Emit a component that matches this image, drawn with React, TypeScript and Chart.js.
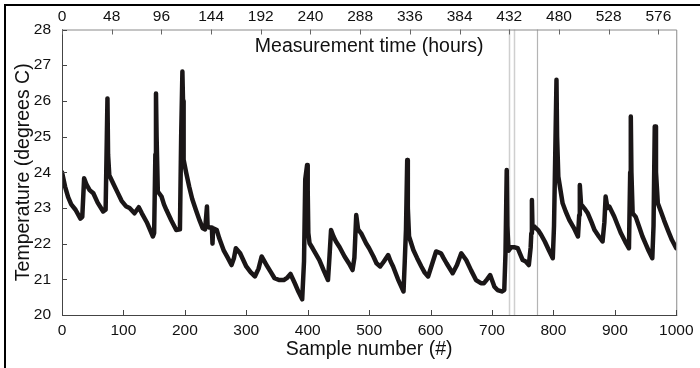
import React, { useEffect, useRef } from "react";
import { Chart, registerables } from "chart.js";

Chart.register(...registerables);

// Sample numbers (x) and temperatures (°C)
const sampleNumbers = [
  0, 5, 10, 15, 22, 30, 33, 36, 40, 45, 51, 58, 67, 71, 73, 74, 75, 77, 83, 90, 97, 104, 110, 118, 125, 130, 138, 148,
  150, 152, 153, 154, 156, 162, 166, 170, 178, 186, 192, 194, 196, 197, 198, 202, 207, 212, 218, 224, 229, 233, 236,
  237, 240, 244, 245, 246, 252, 256, 263, 270, 276, 280, 283, 290, 300, 307, 314, 320, 325, 333, 340, 346, 354, 361,
  367, 372, 379, 385, 391, 394, 396, 399, 400, 401, 403, 408, 419, 426, 433, 435, 438, 442, 446, 452, 460, 467, 473,
  476, 479, 482, 487, 495, 500, 507, 512, 518, 524, 531, 535, 539, 547, 556, 558, 560, 562, 563, 565, 572, 578, 585,
  590, 596, 602, 609, 617, 621, 626, 636, 643, 650, 658, 666, 674, 682, 687, 692, 697, 704, 709, 716, 720, 722, 724,
  725, 727, 731, 736, 742, 750, 755, 760, 763, 764, 765, 766, 769, 775, 780, 786, 793, 799, 801, 803, 805, 806, 808,
  815, 820, 826, 833, 840, 842, 843, 845, 848, 852, 856, 862, 867, 874, 880, 883, 885, 888, 891, 895, 899, 905, 910,
  917, 923, 925, 926, 927, 929, 934, 940, 945, 950, 955, 961, 963, 965, 966, 967, 970, 975, 980, 987, 993, 1000,
];
const temperatures = [
  24.0, 23.6, 23.3, 23.1, 22.95, 22.7, 22.75, 23.83, 23.65, 23.5, 23.41, 23.15, 22.9, 22.95, 25.0, 26.07, 24.5, 23.92,
  23.7, 23.45, 23.2, 23.05, 23.0, 22.85, 23.02, 22.85, 22.6, 22.2, 22.3, 24.5, 26.21, 25.0, 23.46, 23.32, 23.1, 22.94,
  22.65, 22.38, 22.4, 25.0, 26.82, 26.0, 24.35, 24.0, 23.6, 23.25, 22.94, 22.65, 22.43, 22.4, 23.04, 22.5, 22.45,
  22.45, 22.0, 22.43, 22.38, 22.15, 21.82, 21.6, 21.4, 21.6, 21.87, 21.73, 21.36, 21.2, 21.08, 21.3, 21.64, 21.4,
  21.2, 21.03, 20.98, 20.98, 21.05, 21.15, 20.89, 20.65, 20.44, 21.5, 23.8, 24.2, 23.5, 22.3, 22.01, 21.87, 21.54,
  21.25, 20.98, 21.5, 22.38, 22.2, 22.06, 21.9, 21.64, 21.45, 21.26, 21.6, 22.8, 22.4, 22.29, 22.01, 21.87, 21.64,
  21.45, 21.36, 21.5, 21.68, 21.5, 21.36, 21.0, 20.66, 21.5, 22.4, 24.34, 23.0, 22.2, 21.82, 21.6, 21.36, 21.2, 21.08,
  21.4, 21.78, 21.73, 21.6, 21.45, 21.17, 21.4, 21.73, 21.54, 21.25, 20.98, 20.89, 20.89, 21.0, 21.12, 20.79, 20.7,
  20.66, 20.7, 21.73, 24.06, 22.5, 21.8, 21.9, 21.9, 21.87, 21.54, 21.5, 21.4, 21.9, 22.29, 23.22, 22.4, 22.48, 22.38,
  22.25, 22.06, 21.8, 21.59, 22.5, 24.5, 26.59, 25.0, 23.88, 23.13, 22.9, 22.66, 22.45, 22.2, 22.8, 23.64, 23.1, 23.04,
  22.95, 22.85, 22.6, 22.38, 22.2, 22.06, 22.6, 23.32, 23.0, 23.04, 22.9, 22.76, 22.5, 22.29, 22.05, 21.87, 24.0, 25.56,
  24.0, 22.85, 22.75, 22.45, 22.2, 22.0, 21.8, 21.59, 22.5, 25.28, 25.28, 24.0, 23.13, 22.9, 22.66, 22.35, 22.1, 21.87,
];

const sampleTicks = [0, 100, 200, 300, 400, 500, 600, 700, 800, 900, 1000];
const hourTicks = [0, 48, 96, 144, 192, 240, 288, 336, 384, 432, 480, 528, 576];
const tempTicks = [20, 21, 22, 23, 24, 25, 26, 27, 28];
const markerSamples = [727.5, 736, 773.5];
const markerColors = ["#cfcfcf", "#cfcfcf", "#b4b4b4"];

const sampleMin = 0;
const sampleMax = 1000;
const hoursPerSample = 0.5933;
const tempMin = 20;
const tempMax = 28;

const FONT = "'Liberation Sans', Arial, Helvetica, sans-serif";

const framePlugin = {
  id: "framePlugin",
  beforeDatasetsDraw(chart: any) {
    const { ctx, chartArea: a, scales } = chart;
    ctx.save();
    markerSamples.forEach((s, i) => {
      const x = Math.round(scales.x.getPixelForValue(s)) + 0.5;
      ctx.strokeStyle = markerColors[i];
      ctx.lineWidth = i < 2 ? 1.5 : 1.2;
      ctx.beginPath();
      ctx.moveTo(x, a.top);
      ctx.lineTo(x, a.bottom);
      ctx.stroke();
    });
    ctx.restore();
  },
  afterDraw(chart: any) {
    const { ctx, chartArea: a, scales } = chart;
    ctx.save();
    ctx.lineWidth = 1;
    ctx.strokeStyle = "#8a8a8a";
    ctx.beginPath();
    ctx.moveTo(a.left, a.top + 0.5);
    ctx.lineTo(a.right + 0.5, a.top + 0.5);
    ctx.lineTo(a.right + 0.5, a.bottom);
    ctx.stroke();
    ctx.strokeStyle = "#444";
    ctx.beginPath();
    ctx.moveTo(a.left + 0.5, a.top);
    ctx.lineTo(a.left + 0.5, a.bottom + 0.5);
    ctx.lineTo(a.right + 1, a.bottom + 0.5);
    ctx.stroke();
    const tl = 5;
    ctx.strokeStyle = "#444";
    ctx.beginPath();
    scales.x.ticks.forEach((t: any) => {
      const x = Math.round(scales.x.getPixelForValue(t.value)) + 0.5;
      ctx.moveTo(x, a.bottom);
      ctx.lineTo(x, a.bottom - tl);
    });
    scales.y.ticks.forEach((t: any) => {
      const y = Math.round(scales.y.getPixelForValue(t.value)) + 0.5;
      ctx.moveTo(a.left, y);
      ctx.lineTo(a.left + tl, y);
    });
    ctx.stroke();
    ctx.strokeStyle = "#666";
    ctx.beginPath();
    scales.x2.ticks.forEach((t: any) => {
      const x = Math.round(scales.x2.getPixelForValue(t.value)) + 0.5;
      ctx.moveTo(x, a.top);
      ctx.lineTo(x, a.top + tl);
    });
    ctx.stroke();
    ctx.fillStyle = "#111";
    ctx.font = `19.5px ${FONT}`;
    ctx.textAlign = "center";
    ctx.textBaseline = "middle";
    ctx.fillText("Measurement time (hours)", (a.left + a.right) / 2, 46.5);
    ctx.restore();
  },
};

export default function App() {
  const canvasRef = useRef<HTMLCanvasElement | null>(null);

  useEffect(() => {
    document.body.style.margin = "0";
    const canvas = canvasRef.current;
    if (!canvas) return;
    const data = sampleNumbers.map((x, i) => ({ x, y: temperatures[i] }));
    const tickFont = { family: FONT, size: 15.5 };
    const plain = (v: any) => String(v);
    const chart = new Chart(canvas, {
      type: "line",
      data: {
        datasets: [
          {
            data,
            borderColor: "#1a1617",
            borderWidth: 4.5,
            pointRadius: 0,
            tension: 0,
            borderJoinStyle: "round",
            borderCapStyle: "round",
          } as any,
        ],
      },
      options: {
        animation: false,
        responsive: false,
        devicePixelRatio: 1,
        layout: { padding: { left: 0, right: 20, top: 0, bottom: 0 } },
        plugins: { legend: { display: false }, tooltip: { enabled: false } },
        scales: {
          x: {
            type: "linear",
            position: "bottom",
            min: sampleMin,
            max: sampleMax,
            afterBuildTicks: (s: any) => {
              s.ticks = sampleTicks.map((v) => ({ value: v }));
            },
            afterFit: (s: any) => {
              s.height = 53;
            },
            grid: { display: false, drawTicks: false },
            border: { display: false },
            ticks: { font: tickFont, color: "#111", padding: 6.5, autoSkip: false, maxRotation: 0, callback: plain },
            title: {
              display: true,
              text: "Sample number (#)",
              font: { family: FONT, size: 19.5, lineHeight: 1.2 },
              color: "#111",
              padding: { top: 0, bottom: 6.3 },
            },
          },
          x2: {
            type: "linear",
            axis: "x",
            position: "top",
            min: sampleMin * hoursPerSample,
            max: sampleMax * hoursPerSample,
            afterBuildTicks: (s: any) => {
              s.ticks = hourTicks.map((v) => ({ value: v }));
            },
            afterFit: (s: any) => {
              s.height = 29.5;
            },
            grid: { display: false, drawTicks: false },
            border: { display: false },
            ticks: { font: tickFont, color: "#111", padding: 3.5, autoSkip: false, maxRotation: 0, callback: plain },
          },
          y: {
            type: "linear",
            position: "left",
            min: tempMin,
            max: tempMax,
            afterBuildTicks: (s: any) => {
              s.ticks = tempTicks.map((v) => ({ value: v }));
            },
            afterFit: (s: any) => {
              s.width = 62;
            },
            grid: { display: false, drawTicks: false },
            border: { display: false },
            ticks: { font: tickFont, color: "#111", padding: 11, callback: plain },
            title: {
              display: true,
              text: "Temperature (degrees C)",
              font: { family: FONT, size: 19.5, lineHeight: 1.2 },
              color: "#111",
              padding: { top: 12, bottom: 0 },
            },
          },
        },
      } as any,
      plugins: [framePlugin],
    });
    return () => chart.destroy();
  }, []);

  return (
    <div style={{ position: "relative", width: 700, height: 368, background: "#fff", overflow: "hidden" }}>
      <canvas ref={canvasRef} width={700} height={368} style={{ display: "block" }} />
      <div
        style={{
          position: "absolute",
          left: 4,
          top: 4,
          right: 0,
          bottom: 0,
          borderTop: "2px solid #000",
          borderLeft: "2.5px solid #000",
          pointerEvents: "none",
        }}
      />
    </div>
  );
}
